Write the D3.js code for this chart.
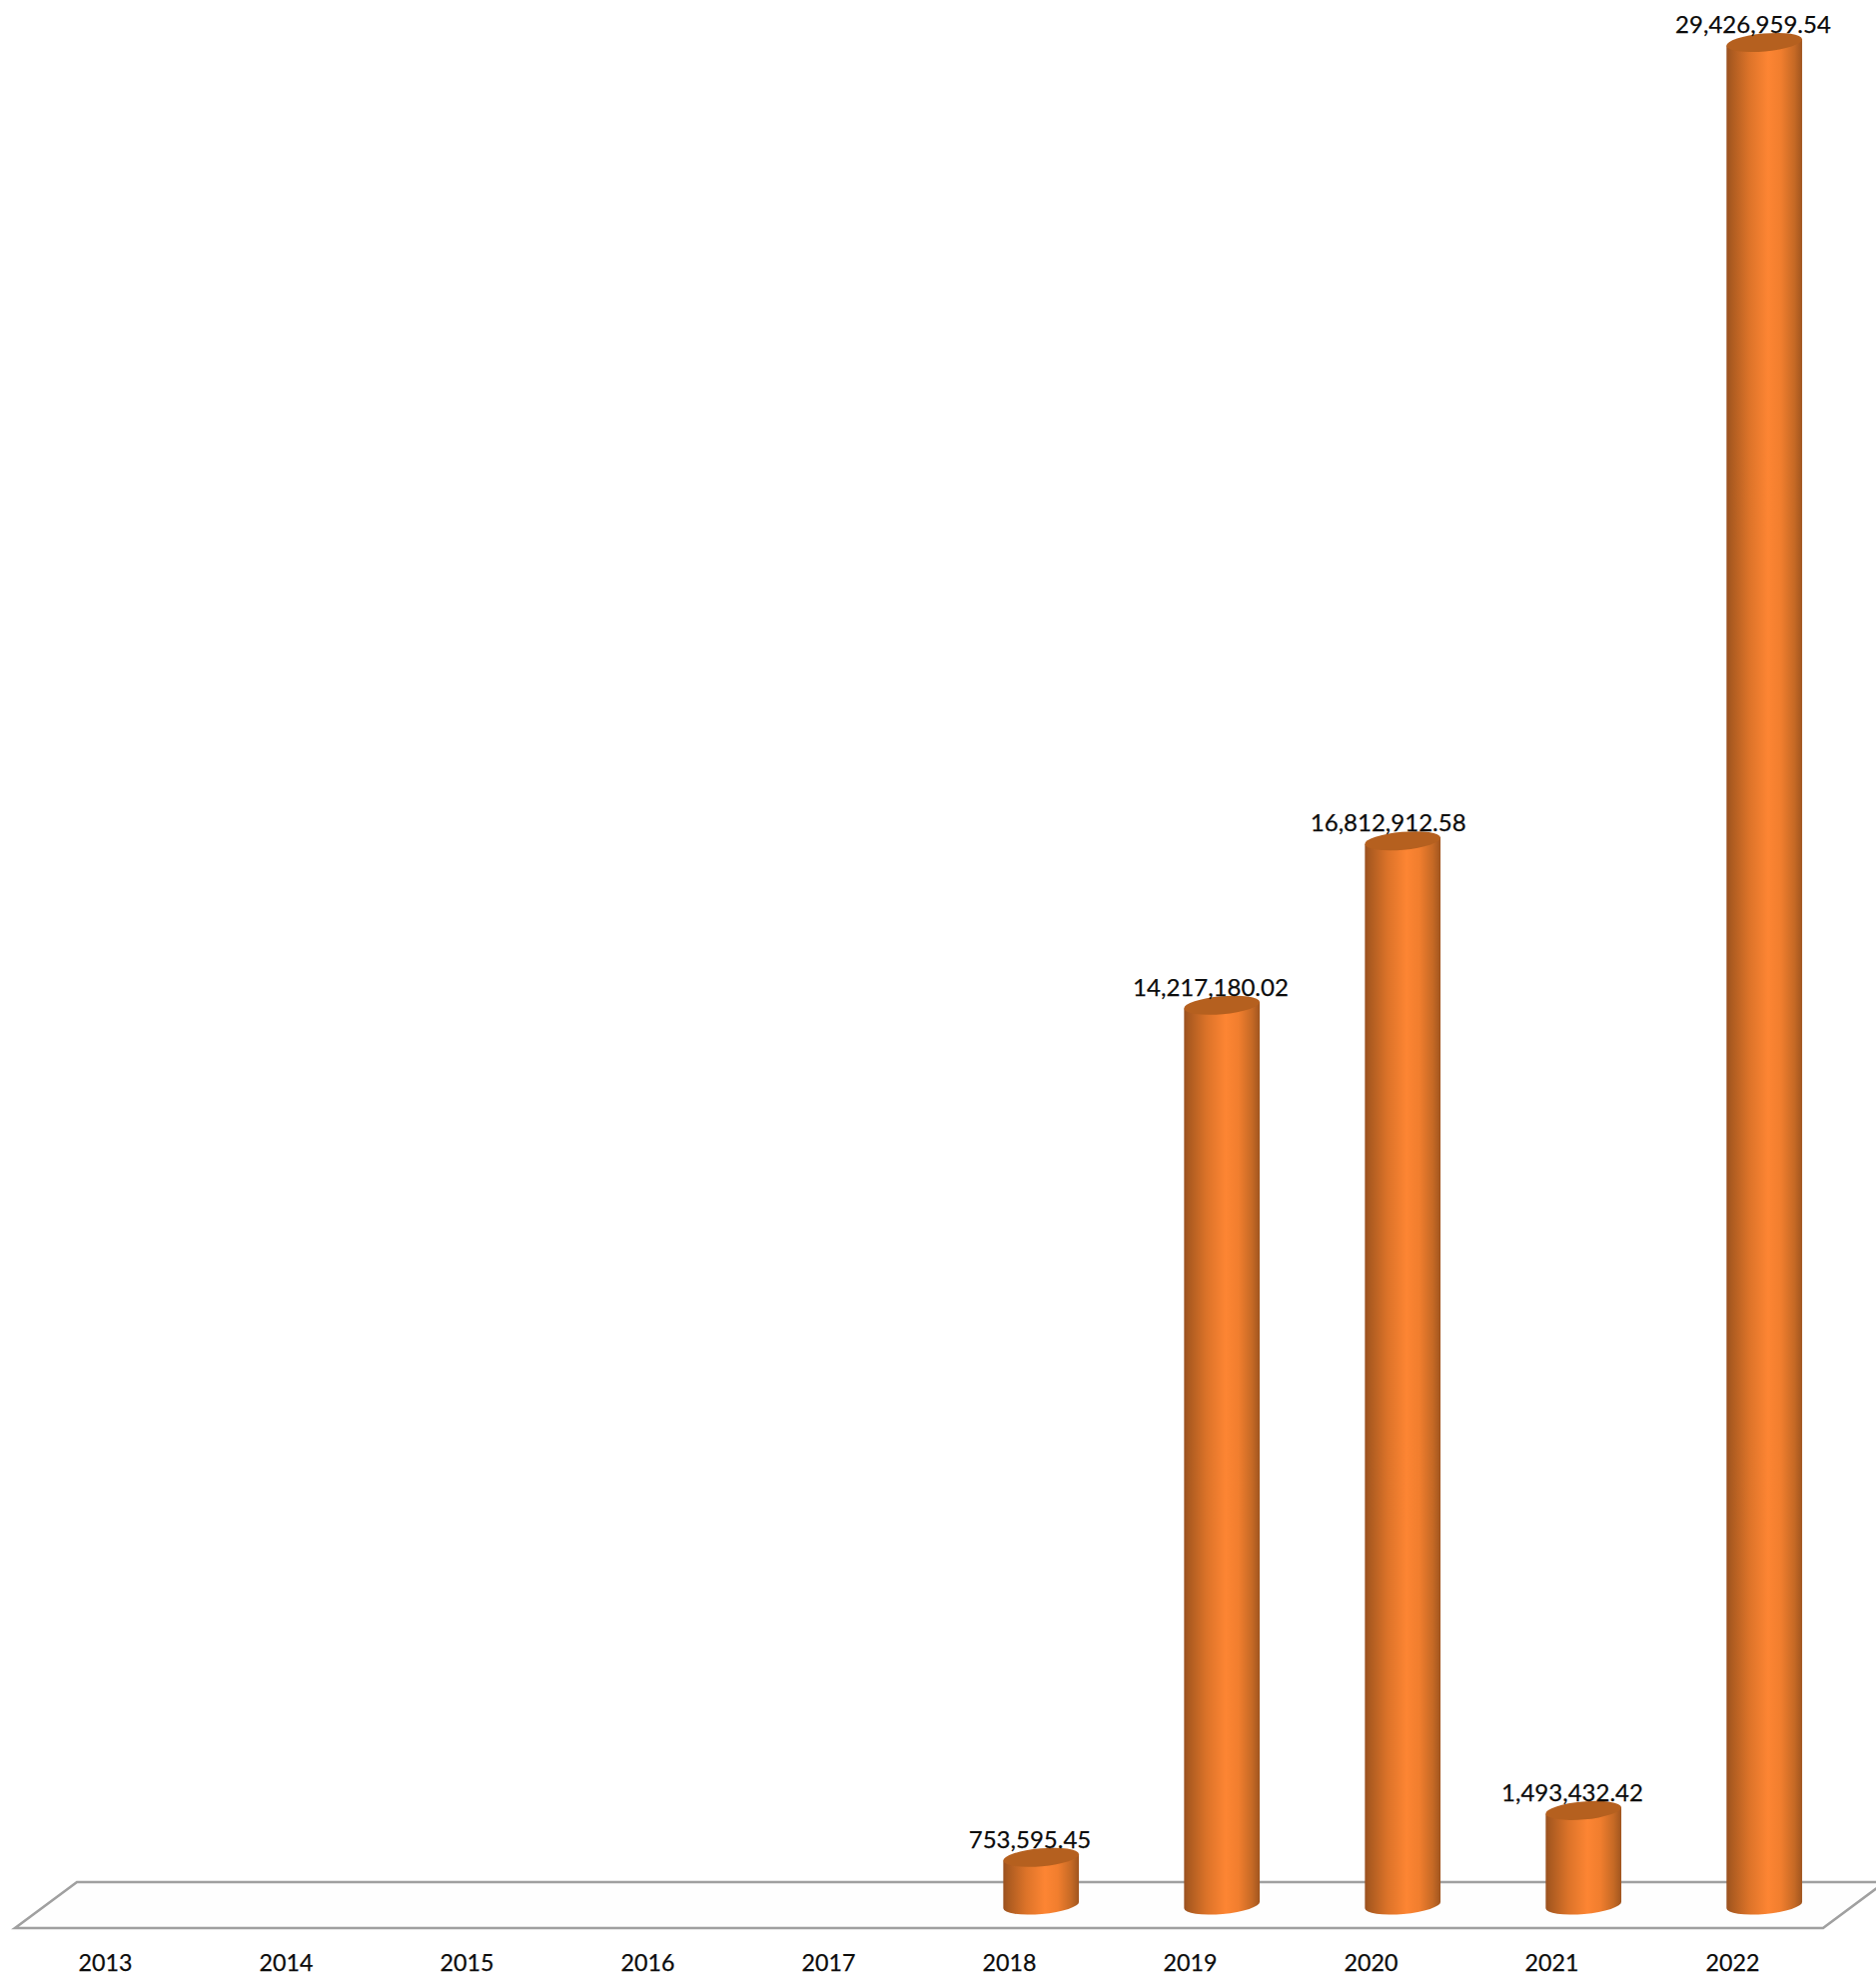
<!DOCTYPE html>
<html><head><meta charset="utf-8">
<script src="https://cdn.jsdelivr.net/npm/d3@7/dist/d3.min.js"></script>
<style>html,body{margin:0;padding:0;background:#fff}svg{display:block}text{font-family:Lato,"Open Sans",sans-serif;fill:#0c0c0c;stroke:#0c0c0c;stroke-width:.25px}</style>
</head><body><script>
const years=["2013","2014","2015","2016","2017","2018","2019","2020","2021","2022"];
const values=[null,null,null,null,null,753595.45,14217180.02,16812912.58,1493432.42,29426959.54];
const labels=[null,null,null,null,null,"753,595.45","14,217,180.02","16,812,912.58","1,493,432.42","29,426,959.54"];

const W=1878,H=1981,frontY=1930,backY=1884,floorL=15,floorR=1825,depthX=62;
const svg=d3.select("body").append("svg").attr("width",W).attr("height",H).attr("viewBox",`0 0 ${W} ${H}`);
const x=d3.scaleBand().domain(years).range([floorL,floorR]);
const y=d3.scaleLinear().domain([0,d3.max(values)]).range([1907,42.5]);

const defs=svg.append("defs");
const g=defs.append("linearGradient").attr("id","cyl").attr("x1",0).attr("x2",1).attr("y1",0).attr("y2",0);
[[0,"#9a5120"],[0.06,"#aa5a20"],[0.3,"#dc7329"],[0.55,"#fd8533"],[0.72,"#f17e2e"],[0.9,"#c56925"],[1,"#a0551f"]]
 .forEach(([o,c])=>g.append("stop").attr("offset",o).attr("stop-color",c));

svg.append("path")
 .attr("d",`M${floorL},${frontY}L${floorL+depthX},${backY}L${floorR+depthX},${backY}L${floorR},${frontY}Z`)
 .attr("fill","#fefefe").attr("stroke","#a0a0a0").attr("stroke-width",2.6).attr("stroke-linejoin","miter");

const rx=38,ry=9,tilt=5,t=tilt*Math.PI/180;
const dx=rx*Math.cos(t),dy=rx*Math.sin(t);
const data=years.map((yr,i)=>({yr,v:values[i],label:labels[i]})).filter(d=>d.v!=null);
const cx=d=>x(d.yr)+x.bandwidth()/2+depthX/2+0.7;
const bars=svg.append("g").selectAll("g").data(data).join("g");
bars.append("path").attr("fill","url(#cyl)").attr("d",d=>{
  const c=cx(d),b=y(0),h=y(d.v);
  return `M${c-dx},${h+dy}L${c-dx},${b+dy}A${rx},${ry} ${-tilt} 0 0 ${c+dx},${b-dy}L${c+dx},${h-dy}Z`;
});
bars.append("ellipse").attr("fill","#b5601f")
 .attr("rx",rx).attr("ry",ry)
 .attr("transform",d=>`translate(${cx(d)},${y(d.v)}) rotate(${-tilt})`);
svg.append("g").selectAll("text").data(data).join("text")
 .attr("x",d=>cx(d)-(d.yr==="2020"?14.5:11.2)).attr("y",d=>y(d.v)-9.5)
 .attr("text-anchor","middle").attr("font-size",24).text(d=>d.label);

svg.append("g").selectAll("text").data(years).join("text")
 .attr("x",d=>x(d)+x.bandwidth()/2).attr("y",1973)
 .attr("text-anchor","middle").attr("font-size",23.2).text(d=>d);
</script></body></html>
